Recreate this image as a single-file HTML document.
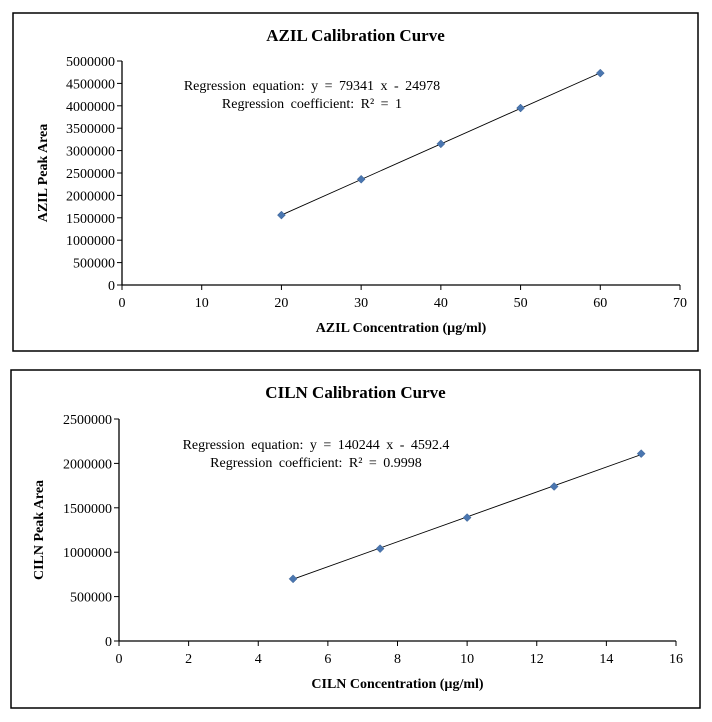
<!DOCTYPE html>
<html><head><meta charset="utf-8"><style>
html,body{margin:0;padding:0;background:#fff;}
svg text{font-family:"Liberation Serif",serif;fill:#000;}
</style></head><body>
<svg id="s" width="712" height="717" xmlns="http://www.w3.org/2000/svg"></svg>
<script>
const azilX=[20,30,40,50,60];
const azilY=[1560000,2360000,3150000,3950000,4730000];
const azilXTicks=[0,10,20,30,40,50,60,70];
const azilYTicks=[0,500000,1000000,1500000,2000000,2500000,3000000,3500000,4000000,4500000,5000000];
const cilnX=[5,7.5,10,12.5,15];
const cilnY=[700000,1040000,1390000,1740000,2110000];
const cilnXTicks=[0,2,4,6,8,10,12,14,16];
const cilnYTicks=[0,500000,1000000,1500000,2000000,2500000];
const NS="http://www.w3.org/2000/svg";
const svg=document.getElementById('s');
function mk(t,a,p){const e=document.createElementNS(NS,t);for(const k in a)e.setAttribute(k,a[k]);(p||svg).appendChild(e);return e;}
function chart(o){
 const g=mk('g',{});
 
 
 const box=mk('rect',{x:o.box[0],y:o.box[1],width:o.box[2],height:o.box[3],fill:'#fff',stroke:'#000','stroke-width':1.5},g);
 
 
 const sx=v=>o.x0+(v-o.xmin)/(o.xmax-o.xmin)*(o.x1-o.x0);
 const sy=v=>o.y0-(v-o.ymin)/(o.ymax-o.ymin)*(o.y0-o.y1);
 const ya=mk('line',{x1:o.x0,y1:o.y1,x2:o.x0,y2:o.y0,stroke:'#000','stroke-width':1.3},g);
 
 
 const xa=mk('line',{x1:o.x0,y1:o.y0,x2:o.x1,y2:o.y0,stroke:'#000','stroke-width':1.3},g);
 
 
 o.yt.forEach(v=>{const y=sy(v);mk('line',{x1:o.x0-5,y1:y,x2:o.x0,y2:y,stroke:'#000'},g);
  const t=mk('text',{x:o.x0-7,y:y+5,'text-anchor':'end','font-size':14},g);t.textContent=v;
  
  });
 o.xt.forEach(v=>{const x=sx(v);mk('line',{x1:x,y1:o.y0,x2:x,y2:o.y0+5,stroke:'#000'},g);
  const t=mk('text',{x:x,y:o.y0+22,'text-anchor':'middle','font-size':14},g);t.textContent=v;
  
  });
 const n=o.xs.length;
 const tl=mk('line',{x1:sx(o.xs[0]),y1:sy(o.slope*o.xs[0]+o.icpt),x2:sx(o.xs[n-1]),y2:sy(o.slope*o.xs[n-1]+o.icpt),stroke:'#000','stroke-width':0.9},g);
 
 
 o.xs.forEach((xv,i)=>{const x=sx(xv),y=sy(o.ys[i]);
  const p=mk('polygon',{points:`${x},${y-4} ${x+4},${y} ${x},${y+4} ${x-4},${y}`,fill:'#4a76b0',stroke:'#3a5f90','stroke-width':0.5},g);
  
  });
 let t=mk('text',{x:(o.box[0]*2+o.box[2])/2,y:o.box[1]+28,'text-anchor':'middle','font-size':17,'font-weight':'bold'},g);t.textContent=o.title;
 
 
 t=mk('text',{x:(o.x0+o.x1)/2,y:o.y0+47,'text-anchor':'middle','font-size':14,'font-weight':'bold'},g);t.textContent=o.xlabel;
 
 
 const cy=(o.y0+o.y1)/2;
 t=mk('text',{x:o.ylx,y:cy,'text-anchor':'middle','font-size':14,'font-weight':'bold',transform:`rotate(-90 ${o.ylx} ${cy})`},g);t.textContent=o.ylabel;
 
 
 t=mk('text',{x:o.eqx,y:o.eqy,'text-anchor':'middle','font-size':14,'word-spacing':3},g);t.textContent=o.eq1;
 
 
 t=mk('text',{x:o.eqx,y:o.eqy+18,'text-anchor':'middle','font-size':14,'word-spacing':3},g);t.textContent=o.eq2;
 
 
}
chart({name:'azil-chart',box:[13,13,685,338],x0:122,x1:680,y0:285,y1:61,xmin:0,xmax:70,ymin:0,ymax:5000000,
 xt:azilXTicks,yt:azilYTicks,xs:azilX,ys:azilY,slope:79341,icpt:-24978,title:'AZIL Calibration Curve',
 xlabel:'AZIL Concentration  (µg/ml)',ylabel:'AZIL  Peak Area',ylx:47,eqx:312,eqy:90,
 eq1:'Regression equation:  y = 79341 x - 24978',eq2:'Regression coefficient:  R² = 1'});
chart({name:'ciln-chart',box:[11,370,689,338],x0:119,x1:676,y0:641,y1:419,xmin:0,xmax:16,ymin:0,ymax:2500000,
 xt:cilnXTicks,yt:cilnYTicks,xs:cilnX,ys:cilnY,slope:140244,icpt:-4592.4,title:'CILN Calibration Curve',
 xlabel:'CILN Concentration  (µg/ml)',ylabel:'CILN Peak Area',ylx:43,eqx:316,eqy:449,
 eq1:'Regression equation:  y = 140244 x - 4592.4',eq2:'Regression coefficient:  R² = 0.9998'});
</script>
</body></html>
